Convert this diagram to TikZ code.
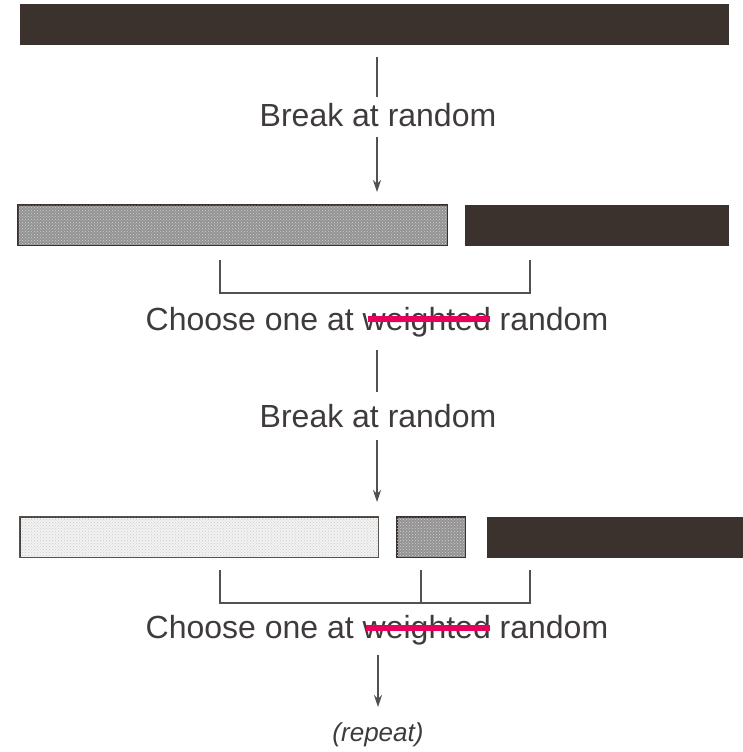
\documentclass[tikz,border=0pt]{standalone}
\usepackage{fontspec}
\setmainfont{Liberation Sans}
\usetikzlibrary{patterns,arrows.meta}
\definecolor{darkbar}{HTML}{3B322D}
\definecolor{txt}{HTML}{403B3B}
\definecolor{strike}{HTML}{E8005C}
\definecolor{ln}{HTML}{555050}
\tikzset{
  bar/.style={inner sep=0pt, minimum height=40pt, draw=darkbar, line width=1pt},
  darkb/.style={bar, fill=darkbar},
  midb/.style={bar, fill=gray!85},
  lightb/.style={bar, fill=gray!10},
  lbl/.style={inner sep=0pt, text=txt, font=\fontsize{32}{36}\selectfont},
  conn/.style={draw=ln, line width=1.1pt},
  arr/.style={conn, -{Stealth[length=12pt,width=8pt]}},
  strk/.style={draw=strike, line width=5.5pt}
}
\begin{document}
\begin{tikzpicture}[x=1pt,y=-1pt]
\useasboundingbox (0,0) rectangle (743,752);
% row 1
\node[darkb, minimum width=708pt] (b1) at (374,25) {};
\node[lbl] (t1) at (378,115) {Break at random};
\coordinate (a1s) at (377,57);
\coordinate (a1e) at (377,97);
\coordinate (a2s) at (377,137);
\coordinate (a2e) at (377,192);
\draw[conn] (a1s) -- (a1e);
\draw[arr] (a2s) -- (a2e);
% row 2
\node[midb, minimum width=429pt] (b2a) at (232.5,225) {};
\fill[pattern=crosshatch dots, pattern color=gray!35] (b2a.south west) rectangle (b2a.north east);
\draw[darkbar, line width=1.2pt] (b2a.south west) rectangle (b2a.north east);
\node[darkb, minimum width=263pt] (b2b) at (596.5,225) {};
\coordinate (k1a) at (220,260);
\coordinate (k1b) at (530,260);
\draw[conn] (k1a) |- (530,293) -- (k1b);
\node[lbl] (c1) at (377,322) {Choose one at weighted random};
\coordinate (s1a) at (368,319);
\coordinate (s1b) at (490,319);
\draw[strk] (s1a) -- (s1b);
\coordinate (a3s) at (377,350);
\coordinate (a3e) at (377,392);
\draw[conn] (a3s) -- (a3e);
\node[lbl] (t2) at (378,416) {Break at random};
\coordinate (a4s) at (377,440);
\coordinate (a4e) at (377,502);
\draw[arr] (a4s) -- (a4e);
% row 3
\node[lightb, minimum width=358pt] (b3a) at (199,537) {};
\fill[pattern=crosshatch dots, pattern color=gray!40] (b3a.south west) rectangle (b3a.north east);
\draw[darkbar!85, line width=1.2pt] (b3a.south west) rectangle (b3a.north east);
\node[midb, minimum width=68pt] (b3b) at (431,537) {};
\fill[pattern=crosshatch dots, pattern color=gray!35] (b3b.south west) rectangle (b3b.north east);
\draw[darkbar, line width=1.2pt] (b3b.south west) rectangle (b3b.north east);
\node[darkb, minimum width=256pt] (b3c) at (615,537) {};
\coordinate (k2a) at (220,570);
\coordinate (k2b) at (421,570);
\coordinate (k2c) at (530,570);
\draw[conn] (k2a) |- (530,603) -- (k2c);
\draw[conn] (k2b) -- (421,603);
\node[lbl] (c2) at (377,630) {Choose one at weighted random};
\coordinate (s2a) at (366,628);
\coordinate (s2b) at (490,628);
\draw[strk] (s2a) -- (s2b);
\coordinate (a5s) at (378,655);
\coordinate (a5e) at (378,707);
\draw[arr] (a5s) -- (a5e);
\node[lbl, font=\fontsize{26}{30}\selectfont\itshape] (rp) at (378,735) {(repeat)};
\end{tikzpicture}
\end{document}
